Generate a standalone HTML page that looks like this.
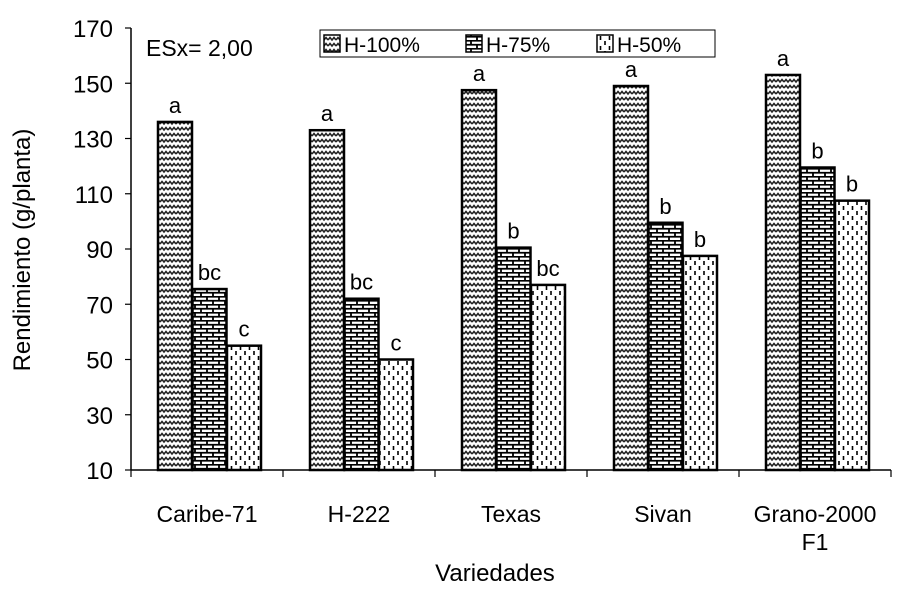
<!DOCTYPE html>
<html><head><meta charset="utf-8"><style>
body{margin:0;background:#fff}
svg text{font-family:"Liberation Sans",sans-serif;fill:#000}
</style></head><body>
<svg id="c" width="900" height="601">
<defs>
<pattern id="pw" width="8" height="6" patternUnits="userSpaceOnUse">
<rect width="8" height="6" fill="#fff"/>
<path d="M0,4 L2,1.5 L4,4 L6,1.5 L8,4" fill="none" stroke="#222" stroke-width="1.6"/>
</pattern>
<pattern id="pb" width="12" height="8" patternUnits="userSpaceOnUse">
<rect width="12" height="8" fill="#fff"/>
<path d="M0,0.75H12M0,4.75H12M3,0V4.5M9,4.5V8" stroke="#000" stroke-width="1.8"/>
</pattern>
<pattern id="pd" width="9" height="10" patternUnits="userSpaceOnUse">
<rect width="9" height="10" fill="#fff"/>
<path d="M2,1V5M6.5,6V10" stroke="#000" stroke-width="1.6"/>
</pattern>
</defs>
<g id="plot"></g>
</svg>
<script>
const categories=["Caribe-71","H-222","Texas","Sivan","Grano-2000"];
const h100=[136,133,147.5,149,153];
const h75=[75.5,72,90.5,99.5,119.5];
const h50=[55,50,77,87.5,107.5];
const l100=["a","a","a","a","a"];
const l75=["bc","bc","b","b","b"];
const l50=["c","c","bc","b","b"];
const yTicks=[10,30,50,70,90,110,130,150,170];
const NS="http://www.w3.org/2000/svg";
const g=document.getElementById('plot');
const x0=131,cw=152,yb=470,yt=28;
const y=v=>yb-(v-10)/160*(yb-yt);
function mk(t,a,p){const e=document.createElementNS(NS,t);for(const k in a)e.setAttribute(k,a[k]);(p||g).appendChild(e);return e;}
let ax=mk('line',{x1:x0,y1:yt,x2:x0,y2:yb,stroke:'#000','stroke-width':1.5});


let xa=mk('line',{x1:x0,y1:yb,x2:x0+cw*categories.length,y2:yb,stroke:'#000','stroke-width':1.5});


yTicks.forEach(t=>{
 mk('line',{x1:x0-6,y1:y(t),x2:x0,y2:y(t),stroke:'#000','stroke-width':1.2});
 const tx=mk('text',{x:x0-18,y:y(t)+9,'text-anchor':'end','font-size':24});
 tx.textContent=t;
 
 
});
for(let i=0;i<=categories.length;i++)mk('line',{x1:x0+cw*i,y1:yb,x2:x0+cw*i,y2:yb+7,stroke:'#000','stroke-width':1.2});
const series=[[h100,'pw',l100,'h-100'],[h75,'pb',l75,'h-75'],[h50,'pd',l50,'h-50']];
categories.forEach((c,i)=>{
 series.forEach((s,j)=>{
  const bx=x0+cw*i+27+j*34.5,v=s[0][i];
  const r=mk('rect',{x:bx,y:y(v),width:34,height:yb-y(v),fill:'url(#'+s[1]+')',stroke:'#000','stroke-width':2.5});
  
  
  const lt=mk('text',{x:bx+17,y:y(v)-9,'text-anchor':'middle','font-size':22});
  lt.textContent=s[2][i];
  
  
 });
 const ct=mk('text',{x:x0+cw*i+cw/2,y:522,'text-anchor':'middle','font-size':23});
 ct.textContent=c;
 
 
});
const f1=mk('text',{x:x0+cw*4+cw/2,y:550,'text-anchor':'middle','font-size':23});
f1.textContent='F1';


const xt=mk('text',{x:495,y:581,'text-anchor':'middle','font-size':24});
xt.textContent='Variedades';


const yt2=mk('text',{x:0,y:0,'text-anchor':'middle','font-size':24,transform:'translate(30,250) rotate(-90)'});
yt2.textContent='Rendimiento (g/planta)';


const es=mk('text',{x:146,y:56,'font-size':23});
es.textContent='ESx= 2,00';


const lg=mk('rect',{x:320,y:30,width:395,height:27,fill:'#fff',stroke:'#000','stroke-width':1});


const names=['H-100%','H-75%','H-50%'],lx=[324,466,597];
series.forEach((s,j)=>{
 const sw=mk('rect',{x:lx[j],y:35,width:16,height:17,fill:'url(#'+s[1]+')',stroke:'#000','stroke-width':1.5});
 
 
 const t=mk('text',{x:lx[j]+20,y:52,'font-size':21});
 t.textContent=names[j];
 
 
});
</script>
</body></html>
